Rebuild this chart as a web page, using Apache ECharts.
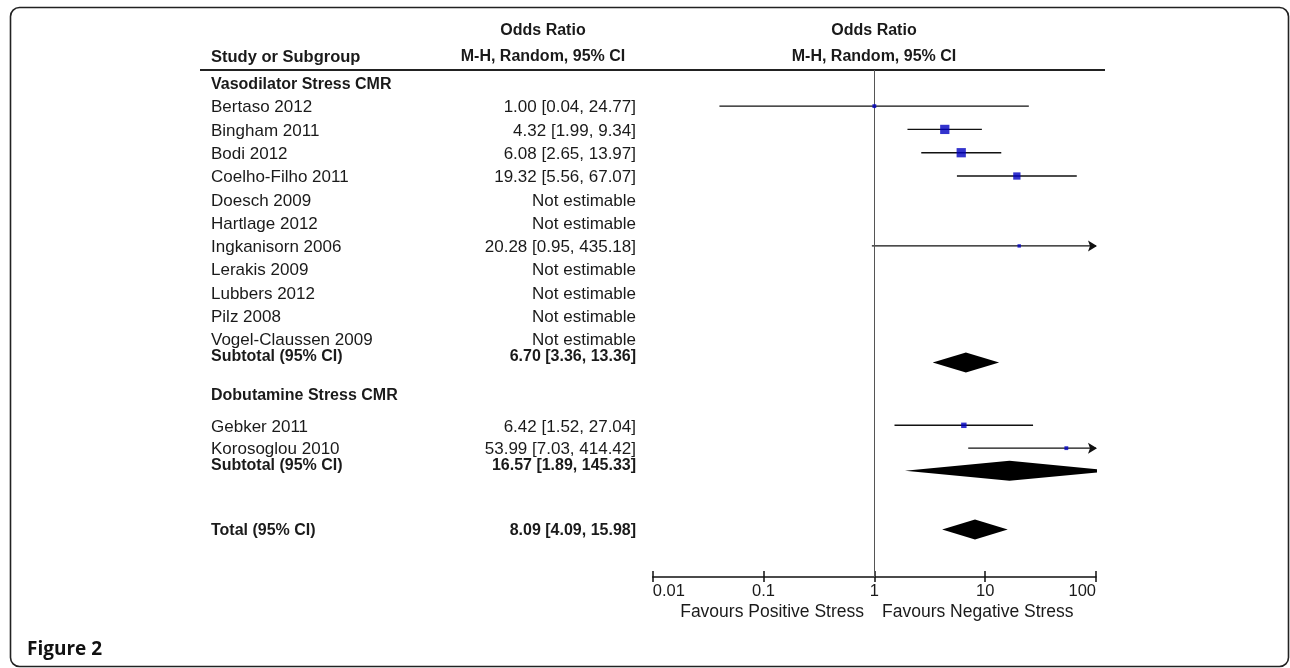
<!DOCTYPE html>
<html>
<head>
<meta charset="utf-8">
<script src="https://cdn.jsdelivr.net/npm/echarts@6/dist/echarts.min.js"></script>
<style>
html,body{margin:0;padding:0;background:#fff;}
#chart{width:1290px;height:668px;}
</style>
</head>
<body>
<div id="chart"></div>
<script>
// ---------------- data ----------------
const groupNames = ['Vasodilator Stress CMR', 'Dobutamine Stress CMR'];
const vasoStudies = ['Bertaso 2012', 'Bingham 2011', 'Bodi 2012', 'Coelho-Filho 2011', 'Doesch 2009', 'Hartlage 2012', 'Ingkanisorn 2006', 'Lerakis 2009', 'Lubbers 2012', 'Pilz 2008', 'Vogel-Claussen 2009'];
const vasoOR = [1.00, 4.32, 6.08, 19.32, null, null, 20.28, null, null, null, null];
const vasoLo = [0.04, 1.99, 2.65, 5.56, null, null, 0.95, null, null, null, null];
const vasoHi = [24.77, 9.34, 13.97, 67.07, null, null, 435.18, null, null, null, null];
const vasoWeight = [5, 29, 29, 18, null, null, 4, null, null, null, null];
const dobuStudies = ['Gebker 2011', 'Korosoglou 2010'];
const dobuOR = [6.42, 53.99];
const dobuLo = [1.52, 7.03];
const dobuHi = [27.04, 414.42];
const dobuWeight = [10, 5];
const pooledLabels = ['Subtotal (95% CI)', 'Subtotal (95% CI)', 'Total (95% CI)'];
const pooledOR = [6.70, 16.57, 8.09];
const pooledLo = [3.36, 1.89, 4.09];
const pooledHi = [13.36, 145.33, 15.98];
const tickValues = [0.01, 0.1, 1, 10, 100];
const tickLabels = ['0.01', '0.1', '1', '10', '100'];

// ---------------- layout (row slots on the hidden y axis) ----------------
const SLOT = {
  vasoHeader: 0,
  vasoFirst: 1,
  vasoSub: 12, vasoSubText: 11.7,
  dobuHeader: 13.35,
  dobuRows: [14.7, 15.68],
  dobuSub: 16.65, dobuSubText: 16.38,
  total: 19.17, totalText: 19.17
};
const FONT = "'Liberation Sans', Arial, sans-serif";
const TXT = '#1a1a1a';
const REG = '17px ' + FONT;
const BOLD = 'bold 16px ' + FONT;

function fmt(or, lo, hi) {
  if (or == null) return 'Not estimable';
  return or.toFixed(2) + ' [' + lo.toFixed(2) + ', ' + hi.toFixed(2) + ']';
}

// table rows
const rows = [];
rows.push({label: groupNames[0], value: '', bold: true, pos: SLOT.vasoHeader});
vasoStudies.forEach((s, i) => rows.push({label: s, value: fmt(vasoOR[i], vasoLo[i], vasoHi[i]), bold: false, pos: SLOT.vasoFirst + i}));
rows.push({label: pooledLabels[0], value: fmt(pooledOR[0], pooledLo[0], pooledHi[0]), bold: true, pos: SLOT.vasoSubText});
rows.push({label: groupNames[1], value: '', bold: true, pos: SLOT.dobuHeader});
dobuStudies.forEach((s, i) => rows.push({label: s, value: fmt(dobuOR[i], dobuLo[i], dobuHi[i]), bold: false, pos: SLOT.dobuRows[i]}));
rows.push({label: pooledLabels[1], value: fmt(pooledOR[1], pooledLo[1], pooledHi[1]), bold: true, pos: SLOT.dobuSubText});
rows.push({label: pooledLabels[2], value: fmt(pooledOR[2], pooledLo[2], pooledHi[2]), bold: true, pos: SLOT.totalText});

// study estimates
const ciData = [], sqData = [];
vasoStudies.forEach((s, i) => {
  if (vasoOR[i] == null) return;
  ciData.push([vasoLo[i], vasoHi[i], SLOT.vasoFirst + i]);
  sqData.push([vasoOR[i], SLOT.vasoFirst + i, vasoWeight[i]]);
});
dobuStudies.forEach((s, i) => {
  ciData.push([dobuLo[i], dobuHi[i], SLOT.dobuRows[i]]);
  sqData.push([dobuOR[i], SLOT.dobuRows[i], dobuWeight[i]]);
});
const pooledPos = [SLOT.vasoSub, SLOT.dobuSub, SLOT.total];
const diamondData = pooledOR.map((v, i) => [v, pooledLo[i], pooledHi[i], pooledPos[i]]);
const tableData = rows.map((r, i) => [1, r.pos, i]);

const X_MAX = 100;

function txt(text, x, y, font, align) {
  return {type: 'text', silent: true, style: {text: text, x: x, y: y, font: font, fill: TXT, align: align, textAlign: align, verticalAlign: 'middle', textVerticalAlign: 'middle'}};
}

function renderTable(params, api) {
  const r = rows[api.value(2)];
  const y = api.coord([1, api.value(1)])[1] + 1.5;
  const font = r.bold ? BOLD : REG;
  const children = [txt(r.label, 211, y, font, 'left')];
  if (r.value) children.push(txt(r.value, 636, y, font, 'right'));
  return {type: 'group', children: children};
}

function renderCI(params, api) {
  const lo = api.value(0), hi = api.value(1), pos = api.value(2);
  const p1 = api.coord([lo, pos]);
  const p2 = api.coord([Math.min(hi, X_MAX), pos]);
  const children = [{
    type: 'line',
    shape: {x1: p1[0], y1: p1[1], x2: p2[0], y2: p2[1]},
    style: {stroke: '#111', lineWidth: 1.4}
  }];
  if (hi > X_MAX) {
    const tx = p2[0] + 1, ty = p2[1];
    children.push({
      type: 'polygon',
      shape: {points: [[tx, ty], [tx - 9, ty - 5.5], [tx - 7, ty], [tx - 9, ty + 5.5]]},
      style: {fill: '#111'}
    });
  }
  return {type: 'group', children: children};
}

function renderDiamond(params, api) {
  const est = api.value(0), lo = api.value(1), hi = api.value(2), pos = api.value(3);
  const pl = api.coord([lo, pos]), pc = api.coord([est, pos]), ph = api.coord([hi, pos]);
  const h = 10;
  return {
    type: 'polygon',
    shape: {points: [[pl[0], pl[1]], [pc[0], pc[1] - h], [ph[0], ph[1]], [pc[0], pc[1] + h]]},
    style: {fill: '#000'}
  };
}

const chart = echarts.init(document.getElementById('chart'), null, {renderer: 'canvas'});

const option = {
  backgroundColor: '#fff',
  animation: false,
  grid: {left: 652.7, right: 194, top: 70, bottom: 91, containLabel: false},
  xAxis: [{
    type: 'log', logBase: 10, min: 0.01, max: 100, position: 'bottom',
    axisLine: {show: true, onZero: false, lineStyle: {color: '#111', width: 1.5}},
    axisTick: {show: true, length: 5, inside: false, lineStyle: {color: '#111', width: 1.5}},
    splitLine: {show: false},
    axisLabel: {
      show: true, margin: 6, color: TXT, fontSize: 16.5, fontFamily: FONT,
      alignMinLabel: 'left', alignMaxLabel: 'right',
      formatter: function (v) {
        const e = Math.round(Math.log10(v));
        const i = tickValues.findIndex(t => Math.round(Math.log10(t)) === e);
        return i >= 0 ? tickLabels[i] : '';
      }
    }
  }, {
    type: 'log', logBase: 10, min: 0.01, max: 100, position: 'bottom', offset: 0,
    axisLine: {show: false, onZero: false},
    axisTick: {show: true, length: 6, inside: true, lineStyle: {color: '#111', width: 1.5}},
    splitLine: {show: false},
    axisLabel: {show: false}
  }],
  yAxis: {
    type: 'value', inverse: true, min: -0.55, max: 21.21, show: false,
    splitLine: {show: false}
  },
  graphic: [
    {type: 'rect', silent: true, shape: {x: 10.5, y: 7.5, width: 1278, height: 659, r: 9}, style: {fill: 'none', stroke: '#222', lineWidth: 1.6}},
    {type: 'line', silent: true, shape: {x1: 200, y1: 70, x2: 1105, y2: 70}, style: {stroke: '#222', lineWidth: 2}},
    txt('Odds Ratio', 543, 31, BOLD, 'center'),
    txt('M-H, Random, 95% CI', 543, 57, BOLD, 'center'),
    txt('Study or Subgroup', 211, 57, 'bold 16.5px ' + FONT, 'left'),
    txt('Odds Ratio', 874, 31, BOLD, 'center'),
    txt('M-H, Random, 95% CI', 874, 57, BOLD, 'center'),
    txt('Favours Positive Stress', 864, 612, '17.5px ' + FONT, 'right'),
    txt('Favours Negative Stress', 882, 612, '17.5px ' + FONT, 'left'),
    {type: 'text', silent: true, style: {text: 'Figure 2', x: 27, y: 650, font: "bold 19px 'Open Sans', sans-serif", fill: '#111', align: 'left', textAlign: 'left', verticalAlign: 'middle', textVerticalAlign: 'middle'}}
  ],
  series: [
    {
      type: 'custom', name: 'table', renderItem: renderTable, data: tableData,
      encode: {x: 0, y: 1}, clip: false, silent: true, z: 5
    },
    {
      type: 'custom', name: 'ci', renderItem: renderCI, data: ciData,
      encode: {x: [0, 1], y: 2}, clip: false, silent: true, z: 3,
      markLine: {
        silent: true, symbol: ['none', 'none'], label: {show: false},
        lineStyle: {color: '#555', width: 1, type: 'solid'},
        data: [{xAxis: 1}]
      }
    },
    {
      type: 'custom', name: 'pooled', renderItem: renderDiamond, data: diamondData,
      encode: {x: [0, 1, 2], y: 3}, clip: true, silent: true, z: 4
    },
    {
      type: 'scatter', name: 'estimates', data: sqData, symbol: 'rect',
      symbolSize: function (v) { return 1.72 * Math.sqrt(v[2]); },
      itemStyle: {color: '#0000c0'}, silent: true, z: 6
    }
  ]
};
chart.setOption(option);
</script>
</body>
</html>
